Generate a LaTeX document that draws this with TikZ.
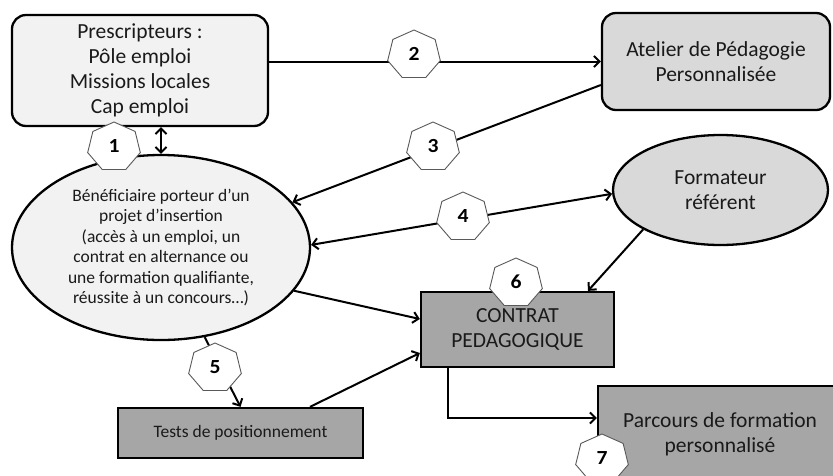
\documentclass[tikz,border=0pt]{standalone}
\usepackage{fontspec}
\setmainfont{Carlito}
\usetikzlibrary{shapes.geometric,arrows.meta,calc}
\definecolor{lightfill}{HTML}{F2F2F2}
\definecolor{midfill}{HTML}{D9D9D9}
\definecolor{darkfill}{HTML}{A6A6A6}
\definecolor{txt}{HTML}{1A1A1A}
\begin{document}
\begin{tikzpicture}[x=1pt,y=-1pt,
  box/.style={draw=black, line width=2.3pt, text=txt, align=center, inner sep=0pt},
  rbox/.style={box, rectangle, rounded corners=14pt},
  sbox/.style={box, rectangle},
  ebox/.style={box, ellipse},
  big/.style={font=\fontsize{21.5}{25}\selectfont},
  small/.style={font=\fontsize{17.5}{20.5}\selectfont},
  hepta/.style={regular polygon, regular polygon sides=7, minimum size=50pt, inner sep=0pt,
    draw=black!65, line width=0.9pt, fill=white, text=black, xscale=1.08,
    font=\fontsize{20}{22}\selectfont\bfseries},
  arr/.style={line width=2pt, -{Straight Barb[length=5.5pt,width=11pt]}},
  dbl/.style={line width=2pt, {Straight Barb[length=5.5pt,width=11pt]}-{Straight Barb[length=5.5pt,width=11pt]}}
]
\clip (0,0) rectangle (833,475);
\useasboundingbox (0,0) rectangle (833,475);

% nodes
\node[rbox, big, fill=lightfill, minimum width=256pt, minimum height=111pt] (presc) at (140,70.5)
  {Prescripteurs :\\Pôle emploi\\Missions locales\\Cap emploi};
\node[rbox, big, fill=midfill, minimum width=228pt, minimum height=97pt] (atelier) at (716,61.5)
  {Atelier de Pédagogie\\Personnalisée};
\node[ebox, small, fill=lightfill, minimum width=298pt, minimum height=185pt] (benef) at (161,247.5)
  {Bénéficiaire porteur d’un\\projet d’insertion\\(accès à un emploi, un\\contrat en alternance ou\\une formation qualifiante,\\réussite à un concours…)};
\node[ebox, big, fill=midfill, minimum width=215pt, minimum height=110pt] (form) at (720.5,190)
  {Formateur\\référent};
\node[sbox, big, fill=darkfill, minimum width=193pt, minimum height=75pt] (contrat) at (517.5,329.5)
  {CONTRAT\\PEDAGOGIQUE};
\node[sbox, small, fill=darkfill, minimum width=245pt, minimum height=50pt] (tests) at (240.5,433)
  {Tests de positionnement};
\node[sbox, fill=darkfill, minimum width=252pt, minimum height=104pt] (parcours) at (724,438) {};
\node[big, text=txt, align=center, inner sep=0pt] (parcourstxt) at (720,434)
  {Parcours de formation\\personnalisé};

% connectors
\draw[dbl] (benef.north |- presc.south) -- (benef.north);
\draw[arr] (presc.east |- atelier.west) -- (atelier.west);
\draw[arr] ([yshift=-23.5pt]atelier.west) -- (benef.19);
\draw[dbl] (benef.1) -- (form.182);
\draw[arr] (benef.-64) -- (tests.north);
\draw[arr] (benef.-18) -- ([yshift=10.5pt]contrat.west);
\draw[arr] ([xshift=69.5pt]tests.north) -- ([yshift=-23.5pt]contrat.west);
\draw[arr] (form.207) -- ([xshift=70.5pt]contrat.north);
\draw[arr] ([xshift=-69.5pt]contrat.south) |- ([yshift=20pt]parcours.west);

% step markers
\node[hepta] (h1) at (114,147) {\raisebox{2pt}{1}};
\node[hepta] (h2) at (414,55) {\raisebox{2pt}{2}};
\node[hepta] (h3) at (433,147) {\raisebox{2pt}{3}};
\node[hepta] (h4) at (463,217) {\raisebox{2pt}{4}};
\node[hepta] (h5) at (215,368) {\raisebox{2pt}{5}};
\node[hepta] (h6) at (516,283) {\raisebox{2pt}{6}};
\node[hepta] (h7) at (602,459) {\raisebox{2pt}{7}};
\end{tikzpicture}
\end{document}
